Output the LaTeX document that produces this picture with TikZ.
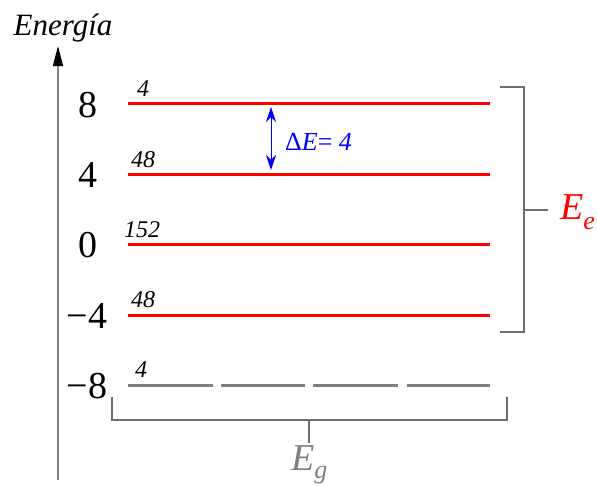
\documentclass[tikz,border=0pt]{standalone}
\usepackage{fontspec}
\setmainfont{Liberation Serif}
\newfontfamily\tms{Liberation Serif}
\usetikzlibrary{arrows.meta}
\definecolor{lvred}{RGB}{255,0,0}
\definecolor{lvgray}{RGB}{128,128,128}
\definecolor{brgray}{RGB}{110,110,110}
\definecolor{dblue}{RGB}{0,0,255}
\tikzset{
  level/.style={draw=lvred,line width=3pt},
  glevel/.style={draw=lvgray,line width=3pt},
  brack/.style={draw=brgray,line width=1.4pt},
  val/.style={font=\tms\fontsize{38}{38}\selectfont,anchor=center,inner sep=0pt},
  deg/.style={font=\tms\fontsize{24}{24}\selectfont\itshape,anchor=base west,inner sep=0pt},
}
\begin{document}
\begin{tikzpicture}[x=1pt,y=-1pt]
\useasboundingbox (0,0) rectangle (597,485);
% axis
\coordinate (axb) at (58,480);
\coordinate (axt) at (58,46);
\draw[draw=lvgray,line width=1.3pt,-{Triangle[length=20pt,width=10pt,color=black]}] (axb) -- (axt);
\node[font=\tms\fontsize{31}{31}\selectfont\itshape,inner sep=0pt] (en) at (63,28) {Energía};
% levels
\foreach \n/\y in {a/103,b/174,c/244,d/315}{
  \coordinate (\n1) at (128,\y);
  \coordinate (\n2) at (490,\y);
  \draw[level] (\n1) -- (\n2);
}
\coordinate (g1) at (128,385);\coordinate (g2) at (213,385);
\coordinate (g3) at (221,385);\coordinate (g4) at (305,385);
\coordinate (g5) at (313,385);\coordinate (g6) at (398,385);
\coordinate (g7) at (407,385);\coordinate (g8) at (490,385);
\draw[glevel] (g1)--(g2) (g3)--(g4) (g5)--(g6) (g7)--(g8);
% values
\node[val] (v8) at (88,105) {8};
\node[val] (v4) at (88,175) {4};
\node[val] (v0) at (88,245) {0};
\node[val] (vm4) at (87,316) {−4};
\node[val] (vm8) at (87,386) {−8};
% degeneracies
\node[deg] (d1) at (137,96) {4};
\node[deg] (d2) at (131,167) {48};
\node[deg] (d3) at (124,237) {152};
\node[deg] (d4) at (131,307) {48};
\node[deg] (d5) at (135,377) {4};
% delta E
\coordinate (de1) at (271,107);
\coordinate (de2) at (271,170);
\draw[dblue,line width=1pt,{Stealth[length=15pt,width=10pt]}-{Stealth[length=15pt,width=10pt]}] (de1) -- (de2);
\node[text=dblue,font=\tms\fontsize{26}{26}\selectfont,anchor=west,inner sep=0pt] (del) at (285,142) {Δ\textit{E}= \textit{4}};
% right bracket
\coordinate (r1) at (500,87);
\coordinate (r2) at (524,87);
\coordinate (r3) at (524,332);
\coordinate (r4) at (500,332);
\coordinate (rm) at (524,210);
\coordinate (rt) at (548,210);
\draw[brack,line width=1.8pt] (r1) -- (r2) -- (r3) -- (r4);
\draw[brack] (rm) -- (rt);
\node[text=lvred,font=\tms\fontsize{38}{38}\selectfont,anchor=west,inner sep=0pt] (ee) at (560,212) {\textit{E}\raisebox{-0.25em}{\fontsize{26}{26}\selectfont\textit{e}}};
% bottom bracket
\coordinate (b1) at (112,397);
\coordinate (b2) at (112,420);
\coordinate (b3) at (507,420);
\coordinate (b4) at (507,397);
\coordinate (bm) at (309,420);
\coordinate (bt) at (309,443);
\draw[brack] (b1) -- (b2) -- (b3) -- (b4);
\draw[brack] (bm) -- (bt);
\node[text=lvgray,font=\tms\fontsize{38}{38}\selectfont,anchor=base west,inner sep=0pt] (eg) at (291,470) {\textit{E}\raisebox{-0.22em}{\fontsize{26}{26}\selectfont\textit{g}}};
\end{tikzpicture}
\end{document}
